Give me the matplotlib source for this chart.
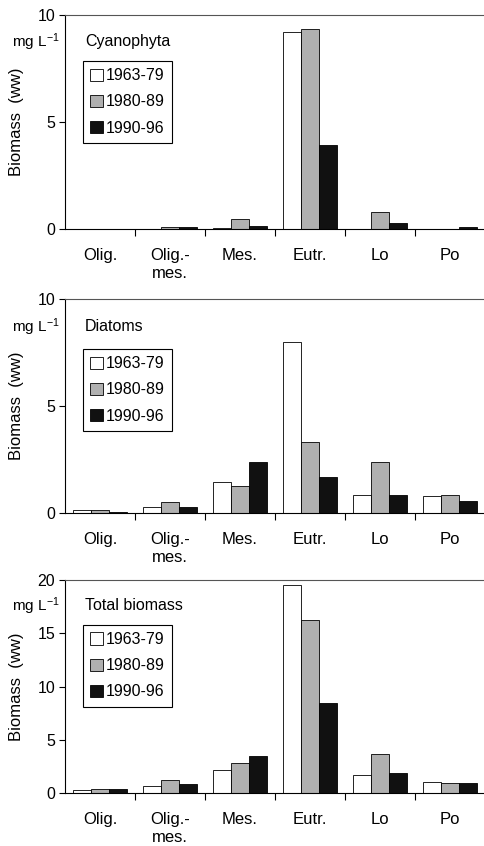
import numpy as np
import matplotlib
matplotlib.use('Agg')
from matplotlib import pyplot as plt

plt.rcParams['font.family'] = ['Liberation Sans', 'DejaVu Sans']
plt.rcParams['mathtext.fontset'] = 'custom'
plt.rcParams['mathtext.rm'] = 'Liberation Sans'
plt.rcParams['mathtext.default'] = 'rm'

categories = ['Olig.', 'Olig.-\nmes.', 'Mes.', 'Eutr.', 'Lo', 'Po']
periods = ['1963-79', '1980-89', '1990-96']

# biomass, mg L-1 (ww), one list per period
cyano_6379 = [0.01, 0.02, 0.03, 9.19, 0.02, 0.01]
cyano_8089 = [0.01, 0.10, 0.45, 9.36, 0.80, 0.01]
cyano_9096 = [0.01, 0.10, 0.16, 3.93, 0.27, 0.08]

diat_6379 = [0.14, 0.30, 1.47, 8.00, 0.86, 0.78]
diat_8089 = [0.12, 0.53, 1.27, 3.30, 2.38, 0.83]
diat_9096 = [0.06, 0.27, 2.39, 1.67, 0.84, 0.55]

total_6379 = [0.25, 0.66, 2.16, 19.5, 1.66, 1.07]
total_8089 = [0.35, 1.22, 2.85, 16.2, 3.64, 0.91]
total_9096 = [0.38, 0.85, 3.45, 8.43, 1.88, 0.91]

panels = [
    ('Cyanophyta', [cyano_6379, cyano_8089, cyano_9096], 10, [0, 5, 10]),
    ('Diatoms', [diat_6379, diat_8089, diat_9096], 10, [0, 5, 10]),
    ('Total biomass', [total_6379, total_8089, total_9096], 20, [0, 5, 10, 15, 20]),
]

W, H = 484, 846
# (top, bottom) of each plot area in pixels
boxes = [(15, 229), (299, 513), (580, 793)]
legend_top = [0.785, 0.766, 0.789]
title_y = [0.874, 0.870, 0.878]

colors = ['white', '#b0b0b0', '#111111']
bar_w = 0.26
x = np.arange(len(categories))

fig = plt.figure(figsize=(W / 100, H / 100), dpi=100)

for k, (name, series, ymax, yticks) in enumerate(panels):
    top, bot = boxes[k]
    ax = fig.add_axes([65 / W, (H - bot) / H, 420 / W, (bot - top) / H])
    for j, vals in enumerate(series):
        ax.bar(x + (j - 1) * bar_w, vals, width=bar_w, color=colors[j],
               edgecolor='black', linewidth=0.6, label=periods[j])
    ax.set_xlim(-0.5, len(categories) - 0.5)
    ax.set_ylim(0, ymax)
    ax.set_yticks(yticks)
    ax.set_xticks(x[:-1] + 0.5)
    ax.set_xticklabels([])
    ax.set_xticks(x, minor=True)
    ax.set_xticklabels(categories, minor=True, fontsize=12, linespacing=1.25)
    ax.tick_params(axis='x', which='minor', length=0, pad=14)
    ax.tick_params(axis='x', which='major', length=5, width=0.8, direction='out')
    ax.tick_params(axis='y', length=4, width=0.8, labelsize=11.5, pad=3)
    for sp in ax.spines.values():
        sp.set_linewidth(0.8)
    ax.spines['top'].set_color('#555555')
    ax.set_ylabel('Biomass  (ww)', fontsize=12, labelpad=10)
    ax.text(0.048, title_y[k], name, transform=ax.transAxes, fontsize=11.5,
            va='center', ha='left')
    ax.text(-0.127, title_y[k], 'mg L$^{-1}$', transform=ax.transAxes,
            fontsize=11, va='center', ha='left', clip_on=False)
    leg = ax.legend(loc='upper left', bbox_to_anchor=(0.043, legend_top[k]),
                    borderaxespad=0, fontsize=11.5, frameon=True, fancybox=False,
                    edgecolor='black', framealpha=1, handlelength=0.8,
                    handleheight=0.8, handletextpad=0.2, labelspacing=0.7,
                    borderpad=0.45)
    leg.get_frame().set_linewidth(0.8)

fig.savefig('out.png', dpi=100)
